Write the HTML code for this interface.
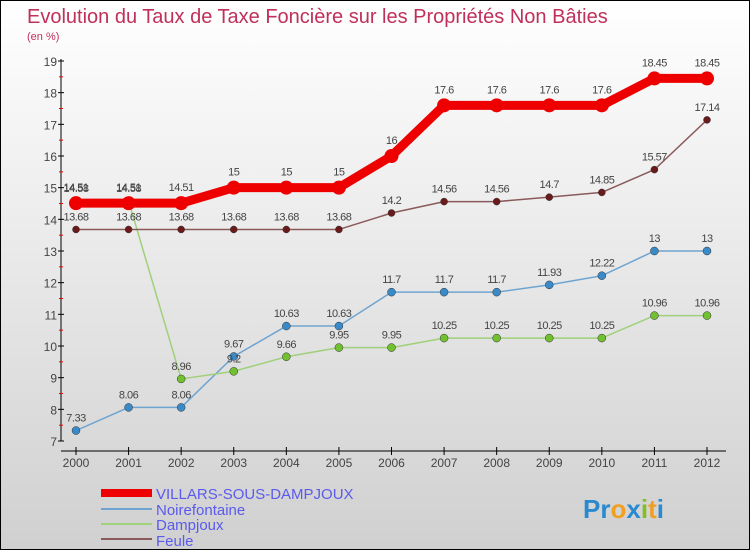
<!DOCTYPE html>
<html><head><meta charset="utf-8"><style>
body{margin:0;width:750px;height:550px;overflow:hidden;font-family:"Liberation Sans",sans-serif}
#c{position:absolute;left:0;top:0;width:748px;height:548px;border:1px solid #000;background:linear-gradient(#fff,#d0d0d0)}
</style></head><body>
<div id="c">
<svg id="s" width="748" height="548" xmlns="http://www.w3.org/2000/svg">
<text x="26" y="22" font-size="20" fill="#c0305a">Evolution du Taux de Taxe Foncière sur les Propriétés Non Bâties</text>
<text x="26" y="39" font-size="11" fill="#c0305a">(en %)</text>
<g id="axes"></g><g id="series"></g>
<g>
<rect x="100" y="488" width="51" height="8" fill="#e00"/>
<text x="155" y="498" font-size="15" fill="#5a5aee">VILLARS-SOUS-DAMPJOUX</text>
<rect x="100" y="507" width="51" height="2" fill="#6fa4d0"/>
<text x="155" y="514" font-size="15" fill="#5a5aee">Noirefontaine</text>
<rect x="100" y="522" width="51" height="2" fill="#9fd07a"/>
<text x="155" y="529" font-size="15" fill="#5a5aee">Dampjoux</text>
<rect x="100" y="537" width="51" height="2" fill="#8a5a5a"/>
<text x="155" y="545" font-size="15" fill="#5a5aee">Feule</text>
</g>
<text x="582" y="517" font-size="26" font-weight="bold"><tspan fill="#2a8ad0">Pr</tspan><tspan fill="#f0a020">o</tspan><tspan fill="#2a8ad0">x</tspan><tspan fill="#80c020">i</tspan><tspan fill="#f0a020">t</tspan><tspan fill="#2a8ad0">i</tspan></text>
</svg></div>
<script>
const years=[2000,2001,2002,2003,2004,2005,2006,2007,2008,2009,2010,2011,2012];
const yTicks=[7,8,9,10,11,12,13,14,15,16,17,18,19];
const villars=[14.51,14.51,14.51,15,15,15,16,17.6,17.6,17.6,17.6,18.45,18.45];
const noire=[7.33,8.06,8.06,9.67,10.63,10.63,11.7,11.7,11.7,11.93,12.22,13,13];
const damp=[14.58,14.58,8.96,9.2,9.66,9.95,9.95,10.25,10.25,10.25,10.25,10.96,10.96];
const feule=[13.68,13.68,13.68,13.68,13.68,13.68,14.2,14.56,14.56,14.7,14.85,15.57,17.14];
const NS="http://www.w3.org/2000/svg";
function X(i){return 75+i*(706-75)/12}
function Y(v){return 60+(19-v)*(440-60)/12}
function mk(t,a,p){const e=document.createElementNS(NS,t);for(const k in a)e.setAttribute(k,a[k]);p.appendChild(e);return e}
const ax=document.getElementById('axes'),se=document.getElementById('series');
let l=mk('line',{x1:60,y1:58,x2:60,y2:440,stroke:'#000'},ax);


l=mk('line',{x1:60,y1:450,x2:725,y2:450,stroke:'#000'},ax);


yTicks.forEach(v=>{mk('line',{x1:57,y1:Y(v),x2:63,y2:Y(v),stroke:'#000'},ax);
 if(v<19)mk('line',{x1:58,y1:Y(v+0.5),x2:62,y2:Y(v+0.5),stroke:'#e00'},ax);
 const t=mk('text',{x:56,y:Y(v)+5,'font-size':12,fill:'#444','text-anchor':'end'},ax);t.textContent=v;
 
 });
years.forEach((y,i)=>{mk('line',{x1:X(i),y1:446,x2:X(i),y2:454,stroke:'#000'},ax);
 const t=mk('text',{x:X(i),y:466,'font-size':12,fill:'#444','text-anchor':'middle'},ax);t.textContent=y;
 
 });
function draw(vals,color,w,r,name,dot){
 const g=mk('g',{},se);
 
 
 mk('polyline',{points:vals.map((v,i)=>X(i)+','+Y(v)).join(' '),fill:'none',stroke:color,'stroke-width':w,'stroke-linejoin':'round'},g);
 vals.forEach((v,i)=>{const c=mk('circle',{cx:X(i),cy:Y(v),r:r,fill:dot,stroke:name=='villars'?'none':'#333','stroke-width':0.5},g);
  
  
  const t=mk('text',{x:X(i),y:Y(v)-(name=='villars'?12:9),'font-size':11,fill:'#444','text-anchor':'middle','letter-spacing':'-0.5'},g);t.textContent=v;
  
  });
}
draw(noire,'#6fa4d0',1.5,4,'noirefontaine','#3a8ac8');
draw(damp,'#9fd07a',1.5,4,'dampjoux','#70c030');
draw(feule,'#8a5a5a',1.5,3.5,'feule','#6a1a1a');
draw(villars,'#e00',9,7,'villars','#e00');
</script></body></html>
